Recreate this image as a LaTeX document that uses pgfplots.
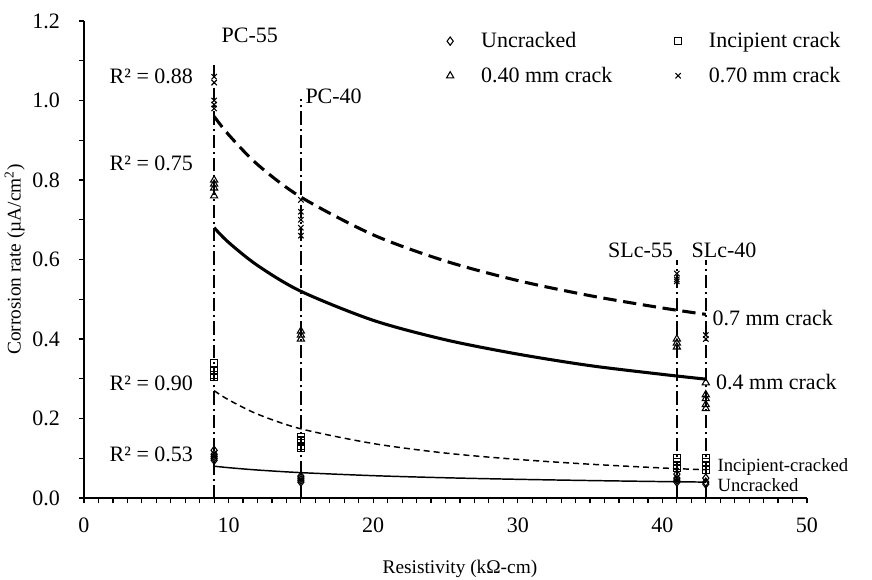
\documentclass[border=0pt]{standalone}
\usepackage{fontspec}
\setmainfont{Liberation Serif}
\usepackage{pgfplots}
\pgfplotsset{compat=1.18}

\begin{document}
\begin{tikzpicture}
\path[use as bounding box] (-63pt,-60.75pt) rectangle (591pt,373.5pt);
\begin{axis}[
	at={(0,0)}, anchor=origin,
	scale only axis,
	width=542.25pt, height=357.75pt,
	xmin=0, xmax=50, ymin=0, ymax=1.2,
	axis lines=left,
	axis line style={-, line width=1pt},
	every tick/.style={black, line width=0.9pt},
	tick align=outside,
	major tick length=4pt, minor tick length=4pt,
	xtick={0,10,...,50}, minor x tick num=9,
	ytick={0,0.2,...,1.2}, minor y tick num=1,
	/pgf/number format/assume math mode=true,
	yticklabel style={/pgf/number format/.cd, fixed, fixed zerofill, precision=1, /tikz/.cd, xshift=-10.5pt},
	ticklabel style={font=\fontsize{16.5}{19}\selectfont},
	xticklabel style={yshift=-7pt},
	xlabel={Resistivity (kΩ-cm)},
	ylabel={Corrosion rate (µA/cm\textsuperscript{2})},
	label style={font=\fontsize{14.5}{17}\selectfont},
	xlabel style={at={(rel axis cs:0.52,0)}, anchor=center, yshift=-53pt},
	ylabel style={at={(rel axis cs:0,0.5)}, anchor=center, yshift=52pt},
	legend columns=2,
	legend cell align=left,
	legend image code/.code={\path (0pt,0pt) (29pt,0pt); \draw[#1] plot coordinates {(8pt,0pt)};},
	legend style={draw=none, fill=none, at={(rel axis cs:0.491,0.982)}, anchor=north west,
		font=\fontsize{16.5}{19}\selectfont, row sep=9pt, inner sep=0pt,
		/tikz/every even column/.append style={column sep=39pt}},
	clip=false,
]
% data points
\addplot[only marks, mark=diamond, mark size=3.1pt, mark options={fill=white, line width=0.8pt}] coordinates {
	(9,0.12) (9,0.11) (9,0.105) (9,0.10) (9,0.095)
	(15,0.055) (15,0.05) (15,0.045) (15,0.04)
	(41,0.06) (41,0.05) (41,0.045) (41,0.04)
	(43,0.05) (43,0.04) (43,0.035)
};
\addlegendentry{Uncracked}
\addplot[only marks, mark=square, mark size=2.5pt, mark options={fill=white, line width=0.8pt}] coordinates {
	(9,0.34) (9,0.32) (9,0.31) (9,0.305)
	(15,0.155) (15,0.145) (15,0.13) (15,0.125)
	(41,0.10) (41,0.09) (41,0.08) (41,0.075)
	(43,0.10) (43,0.09) (43,0.08) (43,0.07)
};
\addlegendentry{Incipient crack}
\addplot[only marks, mark=triangle, mark size=3.1pt, mark options={fill=white, line width=0.8pt}] coordinates {
	(9,0.80) (9,0.79) (9,0.78) (9,0.76)
	(15,0.42) (15,0.41) (15,0.40)
	(41,0.40) (41,0.39) (41,0.38)
	(43,0.29) (43,0.26) (43,0.25) (43,0.235) (43,0.225)
};
\addlegendentry{0.40 mm crack}
\addplot[only marks, mark=x, mark size=2.8pt, mark options={line width=0.8pt}] coordinates {
	(9,1.06) (9,1.045) (9,1.0) (9,0.99) (9,0.98)
	(15,0.75) (15,0.72) (15,0.70) (15,0.68) (15,0.66)
	(41,0.565) (41,0.55) (41,0.545)
	(43,0.41) (43,0.40)
};
\addlegendentry{0.70 mm crack}

% mix identification lines
\addplot[forget plot, line width=1.1pt, dash pattern=on 10pt off 3pt on 1.5pt off 3pt] coordinates {(9,0) (9,1.09)};
\addplot[forget plot, line width=1.1pt, dash pattern=on 10pt off 3pt on 1.5pt off 3pt] coordinates {(15,0) (15,1.005)};
\addplot[forget plot, line width=1.1pt, dash pattern=on 10pt off 3pt on 1.5pt off 3pt] coordinates {(41,0) (41,0.60)};
\addplot[forget plot, line width=1.1pt, dash pattern=on 10pt off 3pt on 1.5pt off 3pt] coordinates {(43,0) (43,0.60)};

% trend lines
\addplot[forget plot, smooth, line width=2.3pt, dash pattern=on 10pt off 5pt] coordinates {
	(9,0.960) (10,0.914) (12,0.839) (15,0.757) (20,0.662) (25,0.596) (30,0.547) (35,0.509) (40,0.478) (43,0.462)
};
\addplot[forget plot, smooth, line width=2.3pt] coordinates {
	(9,0.680) (10,0.643) (12,0.585) (15,0.520) (20,0.447) (25,0.398) (30,0.362) (35,0.333) (40,0.311) (43,0.299)
};
\addplot[forget plot, smooth, line width=1.1pt, dash pattern=on 4.5pt off 3pt] coordinates {
	(9,0.270) (10,0.247) (12,0.211) (15,0.174) (20,0.137) (25,0.113) (30,0.097) (35,0.085) (40,0.0755) (43,0.071)
};
\addplot[forget plot, smooth, line width=1.1pt] coordinates {
	(9,0.080) (10,0.0763) (12,0.0704) (15,0.0638) (20,0.0562) (25,0.0509) (30,0.047) (35,0.0439) (40,0.0413) (43,0.040)
};

% annotations
\begin{scope}[font=\fontsize{16.5}{19}\selectfont, inner sep=0pt]
\node[anchor=west] at (axis cs:9.5,1.165) {PC-55};
\node[anchor=west] at (axis cs:15.3,1.01) {PC-40};
\node[anchor=base east] at (axis cs:40.75,0.605) {SLc-55};
\node[anchor=base west] at (axis cs:42.0,0.605) {SLc-40};
\node[anchor=base west] at (axis cs:43.45,0.434) {0.7 mm crack};
\node[anchor=base west] at (axis cs:43.7,0.273) {0.4 mm crack};
\node[anchor=base east] at (axis cs:7.55,1.044) {R² = 0.88};
\node[anchor=base east] at (axis cs:7.55,0.825) {R² = 0.75};
\node[anchor=base east] at (axis cs:7.55,0.271) {R² = 0.90};
\node[anchor=base east] at (axis cs:7.55,0.091) {R² = 0.53};
\end{scope}
\begin{scope}[font=\fontsize{14}{16}\selectfont, inner sep=0pt]
\node[anchor=base west] at (axis cs:43.8,0.066) {Incipient-cracked};
\node[anchor=base west] at (axis cs:43.8,0.016) {Uncracked};
\end{scope}
\end{axis}
\end{tikzpicture}
\end{document}
